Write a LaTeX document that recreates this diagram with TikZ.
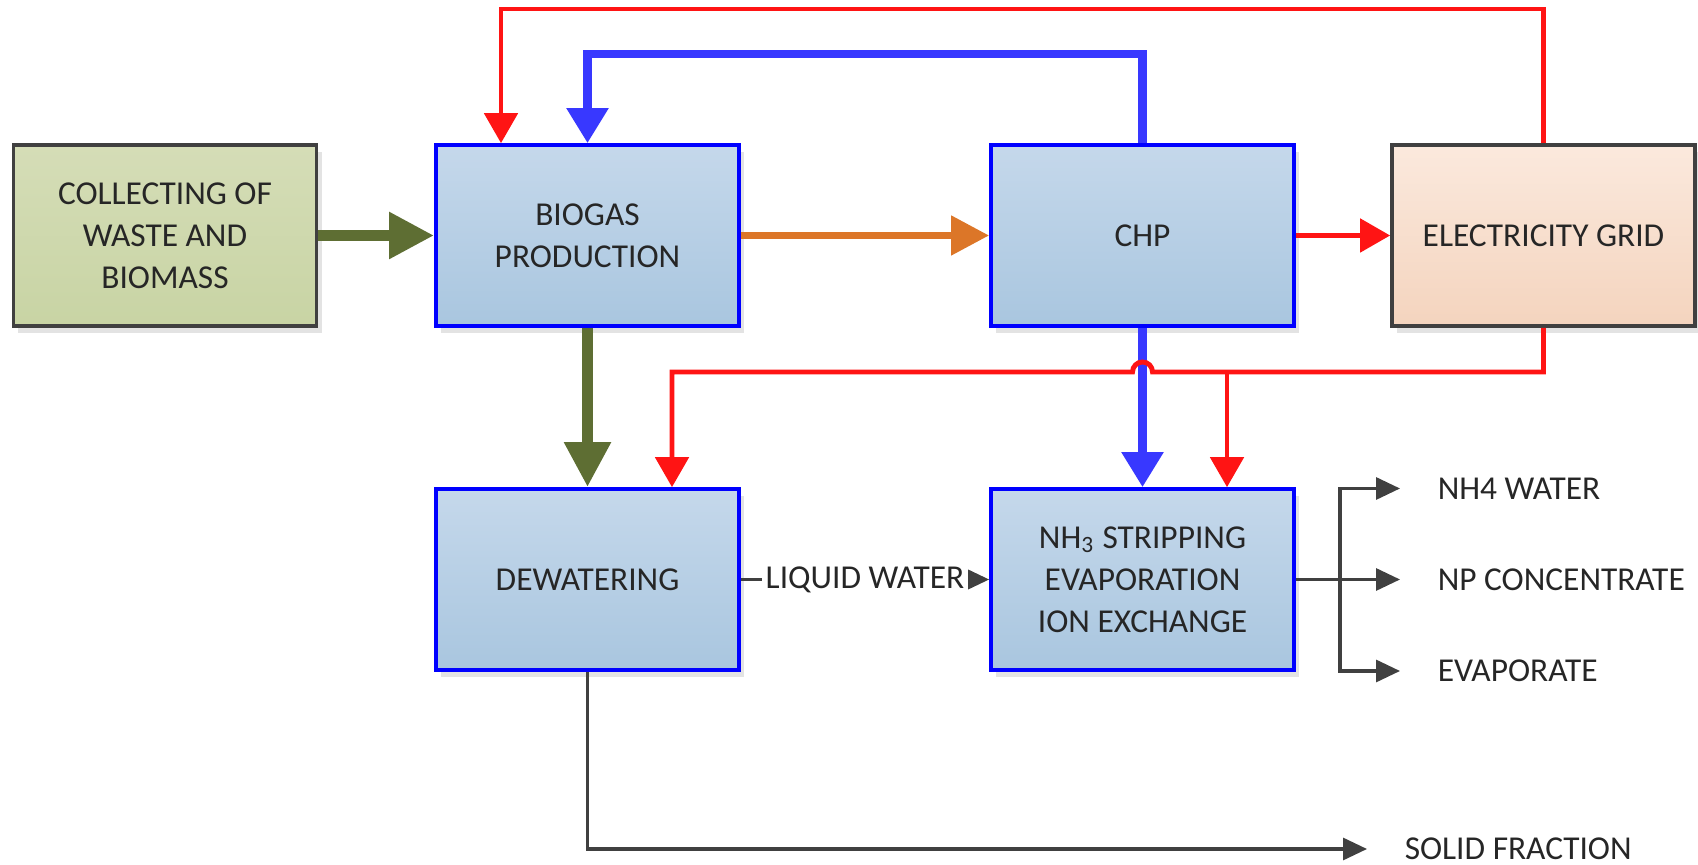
\documentclass[tikz,border=0pt]{standalone}
\usepackage{fontspec}
\setmainfont{Carlito}
\usetikzlibrary{arrows.meta,shadows}
\definecolor{txtgray}{HTML}{262626}
\definecolor{linegray}{HTML}{404040}
\definecolor{bluetop}{HTML}{C5D8EB}
\definecolor{bluebot}{HTML}{A9C6DF}
\definecolor{greentop}{HTML}{D5DDB7}
\definecolor{greenbot}{HTML}{C8D4A4}
\definecolor{peachtop}{HTML}{FBE9DD}
\definecolor{peachbot}{HTML}{F4D4BE}
\definecolor{olive}{HTML}{5E6E33}
\definecolor{flowblue}{HTML}{3838FF}
\definecolor{floworange}{HTML}{DC7628}
\definecolor{flowred}{HTML}{FF1414}
\begin{document}
\begin{tikzpicture}[x=0.01cm,y=-0.01cm,
    font=\fontsize{9.5}{12}\selectfont,
    unit/.style={draw,line width=1pt,minimum width=3.03cm,minimum height=1.81cm,
        inner sep=0pt,align=center,text=txtgray,
        drop shadow={shadow xshift=0.05cm,shadow yshift=-0.07cm,fill=black!11,opacity=1}},
    bluebox/.style={unit,draw=blue,top color=bluetop,bottom color=bluebot},
    greenbox/.style={unit,draw=linegray,top color=greentop,bottom color=greenbot},
    peachbox/.style={unit,draw=linegray,top color=peachtop,bottom color=peachbot},
    outlabel/.style={anchor=west,inner xsep=0.37cm,inner ysep=1pt,text=txtgray},
    greenarrow/.style={olive,line width=3.2pt,-{Triangle[length=0.45cm,width=0.44cm]}},
    orangearrow/.style={floworange,line width=2.2pt,-{Triangle[length=0.38cm,width=0.38cm]}},
    bluearrow/.style={flowblue,line width=2.4pt,-{Triangle[length=0.35cm,width=0.40cm]}},
    redarrow/.style={flowred,line width=1.4pt,-{Triangle[length=0.30cm,width=0.33cm]}},
    redline/.style={flowred,line width=1.4pt},
    grayline/.style={linegray,line width=0.9pt},
    grayarrow/.style={grayline,-{Triangle[length=0.24cm,width=0.22cm]}}]
\useasboundingbox (0,0) rectangle (1698,865);

% boxes
\node[greenbox] (collect) at (165,235.5) {COLLECTING OF\\WASTE AND\\BIOMASS};
\node[bluebox] (biogas) at (587.5,235.5) {BIOGAS\\PRODUCTION};
\node[bluebox] (chp) at (1142.5,235.5) {CHP};
\node[peachbox] (grid) at (1543.5,235.5) {ELECTRICITY GRID};
\node[bluebox] (dewater) at (587.5,579.5) {DEWATERING};
\node[bluebox] (strip) at (1142.5,579.5) {NH\textsubscript{3} STRIPPING\\EVAPORATION\\ION EXCHANGE};

% outputs
\node[outlabel] (nh4) at (1400,488.5) {NH4 WATER};
\node[outlabel] (npc) at (1400,579.5) {NP CONCENTRATE};
\node[outlabel] (evap) at (1400,671) {EVAPORATE};
\node[outlabel] (solid) at (1367,849) {SOLID FRACTION};

\coordinate (rtop) at (501,9);
\coordinate (btop) at (587.5,54);
\coordinate (rleft) at (672,372);
\coordinate (hop) at (1142.5,372);
\coordinate (rbranch) at (1227,372);
\coordinate (split) at (1340,579.5);

% main flow
\draw[greenarrow] (collect.east) -- (biogas.west);
\draw[greenarrow] (biogas.south) -- (dewater.north);
\draw[orangearrow] (biogas.east) -- (chp.west);
\draw[redarrow] (chp.east) -- (grid.west);

% heat and power back
\draw[bluearrow] (chp.north) |- (btop) -- (biogas.north);
\draw[redarrow] (grid.north) |- (rtop) -- (rtop |- biogas.north);
\draw[bluearrow] (chp.south) -- (strip.north);
\draw[redarrow] (grid.south) |- ([xshift=0.1cm]hop) arc[start angle=0,end angle=180,radius=0.1cm]
    -- (rleft) -- (rleft |- dewater.north);
\draw[redarrow] (rbranch) -- (rbranch |- strip.north);

% water and products
\draw[grayarrow] (dewater.east) -- node[fill=white,inner xsep=1pt,inner ysep=2pt,text=txtgray] {LIQUID WATER} (strip.west);
\draw[grayline] (strip.east) -- (split);
\draw[grayarrow] (split) |- (nh4.west);
\draw[grayarrow] (split) -- (npc.west);
\draw[grayarrow] (split) |- (evap.west);
\draw[grayarrow] (dewater.south) |- (solid.west);
\end{tikzpicture}
\end{document}
